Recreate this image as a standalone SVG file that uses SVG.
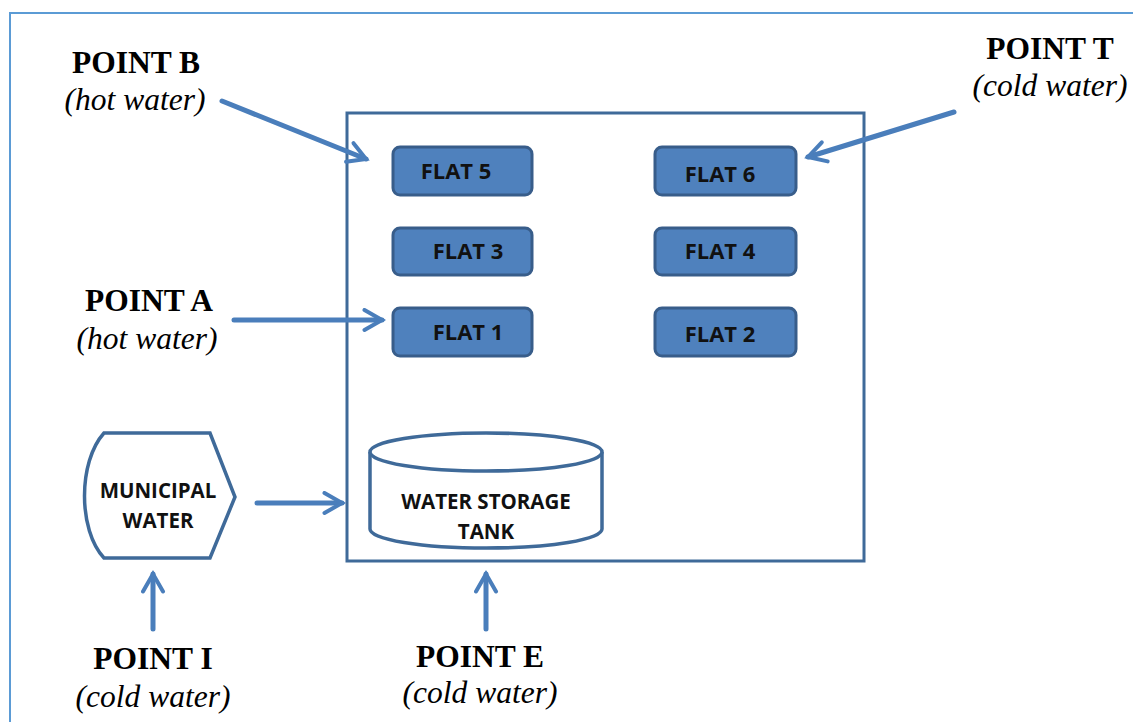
<svg xmlns="http://www.w3.org/2000/svg" width="1133" height="722" viewBox="0 0 1133 722">
  <style>
    .frame { fill: none; stroke: #5b9bd5; stroke-width: 2; }
    .box { fill: #ffffff; stroke: #3f6a99; stroke-width: 3; }
    .flat { fill: #4f81bd; stroke: #385d8a; stroke-width: 3; }
    .flat-text { font-family: "Open Sans", "Liberation Sans", sans-serif; font-weight: bold; font-size: 22px; fill: #111111; text-anchor: middle; }
    .shape { fill: #ffffff; stroke: #3f6a99; stroke-width: 3.5; }
    .shape-text { font-family: "Open Sans", "Liberation Sans", sans-serif; font-weight: bold; font-size: 20.5px; fill: #111111; text-anchor: middle; }
    .pt { font-family: "Liberation Serif", serif; font-weight: bold; font-size: 31.5px; fill: #000000; text-anchor: middle; }
    .sub { font-family: "Liberation Serif", serif; font-style: italic; font-size: 31.5px; fill: #000000; text-anchor: middle; }
    .arrow { fill: none; stroke: #4a7ebb; stroke-width: 5; stroke-linecap: round; }
  </style>
  <defs>
    <marker id="chev" viewBox="0 0 10 10" refX="8" refY="5" markerWidth="5" markerHeight="5" markerUnits="strokeWidth" orient="auto">
      <path d="M1,1 L8,5 L1,9" fill="none" stroke="#4a7ebb" stroke-width="1.6" stroke-linecap="round" stroke-linejoin="miter"/>
    </marker>
  </defs>

  <rect x="0" y="0" width="1133" height="722" fill="#ffffff"/>
  <path class="frame" d="M10,722 L10,13 L1133,13"/>

  <g id="building">
    <rect class="box" x="347" y="113" width="517" height="448"/>
  </g>

  <g id="flat5"><rect class="flat" x="393" y="147" width="139" height="48" rx="7"/><text class="flat-text" x="456" y="179">FLAT 5</text></g>
  <g id="flat6"><rect class="flat" x="655" y="147" width="141" height="48" rx="7"/><text class="flat-text" x="720" y="182">FLAT 6</text></g>
  <g id="flat3"><rect class="flat" x="393" y="228" width="139" height="47" rx="7"/><text class="flat-text" x="468" y="259">FLAT 3</text></g>
  <g id="flat4"><rect class="flat" x="655" y="228" width="141" height="47" rx="7"/><text class="flat-text" x="720" y="259">FLAT 4</text></g>
  <g id="flat1"><rect class="flat" x="393" y="308" width="139" height="48" rx="7"/><text class="flat-text" x="468" y="340">FLAT 1</text></g>
  <g id="flat2"><rect class="flat" x="655" y="308" width="141" height="48" rx="7"/><text class="flat-text" x="720" y="342">FLAT 2</text></g>

  <g id="municipal-water">
    <path class="shape" d="M104,433 L210,433 L235,497 L210,558 L104,558 C78,530 78,462 104,433 Z"/>
    <text class="shape-text" x="158" y="498">MUNICIPAL</text>
    <text class="shape-text" x="158" y="528">WATER</text>
  </g>

  <g id="storage-tank">
    <path class="shape" d="M370,452 L370,529 A116,19 0 0 0 602,529 L602,452"/>
    <ellipse class="shape" cx="486" cy="452" rx="116" ry="19"/>
    <text class="shape-text" x="486" y="509">WATER STORAGE</text>
    <text class="shape-text" x="486" y="539">TANK</text>
  </g>

  <g id="point-b"><text class="pt" x="136" y="73">POINT B</text><text class="sub" x="135" y="110">(hot water)</text></g>
  <g id="point-t"><text class="pt" x="1050" y="59">POINT T</text><text class="sub" x="1050" y="96">(cold water)</text></g>
  <g id="point-a"><text class="pt" x="149" y="311">POINT A</text><text class="sub" x="147" y="349">(hot water)</text></g>
  <g id="point-i"><text class="pt" x="153" y="669">POINT I</text><text class="sub" x="153" y="707">(cold water)</text></g>
  <g id="point-e"><text class="pt" x="480" y="667">POINT E</text><text class="sub" x="480" y="703">(cold water)</text></g>

  <g id="connectors">
    <line class="arrow" x1="222" y1="101" x2="366" y2="159" marker-end="url(#chev)"/>
    <line class="arrow" x1="954" y1="112" x2="808" y2="157" marker-end="url(#chev)"/>
    <line class="arrow" x1="234" y1="320" x2="382" y2="320" marker-end="url(#chev)"/>
    <line class="arrow" x1="257" y1="503" x2="342" y2="503" marker-end="url(#chev)"/>
    <line class="arrow" x1="153" y1="629" x2="153" y2="574" marker-end="url(#chev)"/>
    <line class="arrow" x1="486" y1="629" x2="486" y2="574" marker-end="url(#chev)"/>
  </g>
</svg>
